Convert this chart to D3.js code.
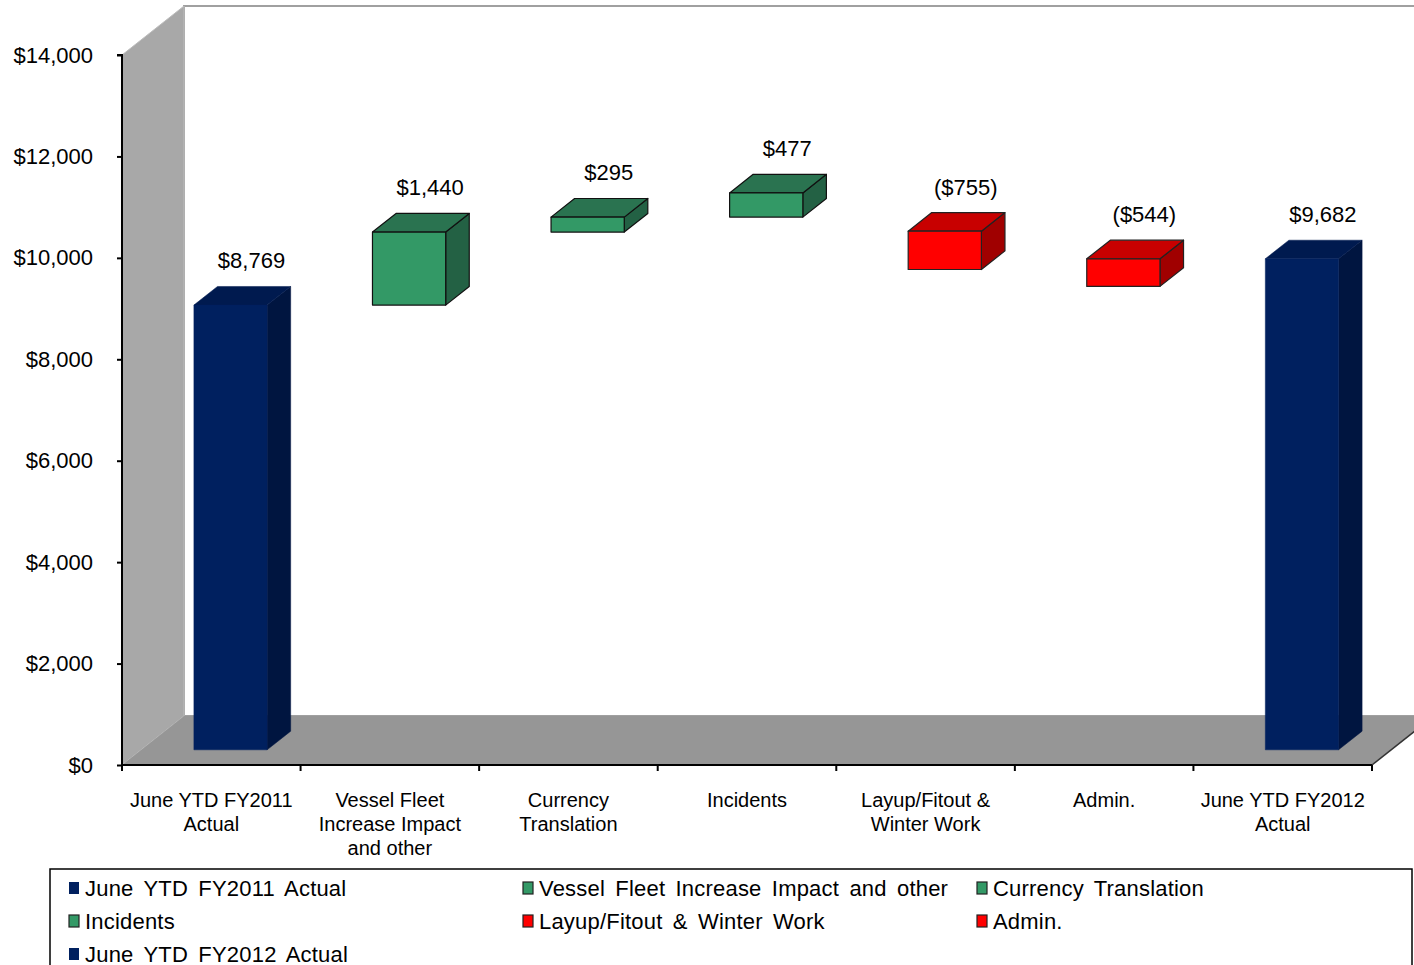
<!DOCTYPE html>
<html><head><meta charset="utf-8">
<script src="https://cdn.jsdelivr.net/npm/d3@7"></script>
<style>
html,body{margin:0;padding:0;background:#fff;overflow:hidden}
svg{display:block;font-family:"Liberation Sans",Arial,sans-serif}
</style></head>
<body><svg id="c" width="1414" height="965"></svg>
<script>
// ---- data ----
const categories = [["June YTD FY2011","Actual"],["Vessel Fleet","Increase Impact","and other"],["Currency","Translation"],["Incidents"],["Layup/Fitout &","Winter Work"],["Admin."],["June YTD FY2012","Actual"]];
const seriesNames = ["June YTD FY2011 Actual","Vessel Fleet Increase Impact and other","Currency Translation","Incidents","Layup/Fitout & Winter Work","Admin.","June YTD FY2012 Actual"];
const values = [8769, 1440, 295, 477, -755, -544, 9682];
const kinds = ["total","delta","delta","delta","delta","delta","total"];
const valueLabels = ["$8,769","$1,440","$295","$477","($755)","($544)","$9,682"];
const yTicks = [0,2000,4000,6000,8000,10000,12000,14000];
const yTickLabels = ["$0","$2,000","$4,000","$6,000","$8,000","$10,000","$12,000","$14,000"];

// ---- layout ----
const svg = d3.select("#c");
const x0 = 122, x1 = 1372, yBase = 765, yTop = 55;
const DX = 62, DY = -49; // full depth offset
const dFront = 0.31, dBar = 0.38;
const y = d3.scaleLinear().domain([0,14000]).range([yBase,yTop]);
const x = d3.scaleBand().domain(d3.range(categories.length)).range([x0,x1]);
const bw = x.bandwidth()*0.41;
const P = (px, v, d) => [px + DX*d, y(v) + DY*d];

const pal = {
  total:{front:"#00205f", top:"#001a4f", side:"#001540", stroke:"none"},
  up:{front:"#339966", top:"#2a7350", side:"#236144", stroke:"#111"},
  down:{front:"#ff0000", top:"#c80000", side:"#a00000", stroke:"#222"}
};

// walls
const g = svg.append("g");
g.append("polygon").attr("points",[P(x0,14000,1),P(x1+200,14000,1),P(x1+200,0,1),P(x0,0,1)].join(" "))
  .attr("fill","#fff").attr("stroke","#a0a0a0").attr("stroke-width",2);
g.append("polygon").attr("points",[P(x0,14000,0),P(x0,14000,1),P(x0,0,1),P(x0,0,0)].join(" "))
  .attr("fill","#a8a8a8").attr("stroke","#bdbdbd").attr("stroke-width",1);
g.append("polygon").attr("points",[P(x0,0,0),P(x0,0,1),P(x1,0,1),P(x1,0,0)].join(" "))
  .attr("fill","#969696").attr("stroke","none");
g.append("line").attr("x1",P(x1,0,0)[0]).attr("y1",P(x1,0,0)[1]).attr("x2",P(x1,0,1)[0]).attr("y2",P(x1,0,1)[1])
  .attr("stroke","#333").attr("stroke-width",1.5);

// axes
const yAxis = d3.axisLeft(y).tickValues(yTicks).tickFormat((d,i)=>yTickLabels[i]).tickSize(5).tickPadding(24);
const ya = svg.append("g").attr("transform",`translate(${x0},0)`).call(yAxis);
ya.select(".domain").attr("stroke","#000").attr("stroke-width",2).attr("d",`M-5,${y(14000)}H0V${yBase}`);
ya.selectAll(".tick line").attr("stroke","#000").attr("stroke-width",2);
ya.selectAll(".tick text").attr("font-size",22).attr("fill","#000").attr("font-family","Liberation Sans, Arial, sans-serif");

const xa = svg.append("g");
xa.append("line").attr("x1",x0).attr("x2",x1).attr("y1",yBase).attr("y2",yBase).attr("stroke","#000").attr("stroke-width",2);
const tickXs = d3.range(categories.length+1).map(i => i<categories.length ? x(i) : x1);
xa.selectAll("line.t").data(tickXs).join("line").attr("class","t")
  .attr("x1",d=>d).attr("x2",d=>d).attr("y1",yBase).attr("y2",yBase+6).attr("stroke","#000").attr("stroke-width",2);
categories.forEach((lines,i)=>{
  const cx = x(i)+x.bandwidth()/2;
  const t = xa.append("text").attr("text-anchor","middle").attr("font-size",20).attr("fill","#000")
    .attr("x", cx).attr("y", 807);
  lines.forEach((s,j)=>t.append("tspan").attr("x",cx).attr("dy",j?24:0).text(s));
});

// waterfall extents (decreases drawn as in the source: [after - |v|, after])
let cum = 0;
const bars = values.map((v,i)=>{
  let lo, hi, kind;
  if (kinds[i]==="total"){ lo=0; hi=v; cum=v; kind="total"; }
  else if (v>=0){ lo=cum; hi=cum+v; cum+=v; kind="up"; }
  else { cum+=v; hi=cum; lo=cum+v; kind="down"; }
  return {i, lo, hi, kind};
});

const bg = svg.append("g");
bars.forEach(b=>{
  const c = pal[b.kind];
  const xl = x(b.i) + (x.bandwidth()-bw)/2, xr = xl + bw;
  const d0 = dFront, d1 = dFront + dBar;
  const front = [P(xl,b.hi,d0),P(xr,b.hi,d0),P(xr,b.lo,d0),P(xl,b.lo,d0)];
  const top = [P(xl,b.hi,d0),P(xl,b.hi,d1),P(xr,b.hi,d1),P(xr,b.hi,d0)];
  const side = [P(xr,b.hi,d0),P(xr,b.hi,d1),P(xr,b.lo,d1),P(xr,b.lo,d0)];
  const solid = c.stroke==="none";
  [[side,c.side],[top,c.top],[front,c.front]].forEach(([pts,fill])=>{
    bg.append("polygon").attr("points",pts.join(" ")).attr("fill",fill)
      .attr("stroke",solid?fill:c.stroke).attr("stroke-width",solid?0.5:1.2).attr("stroke-linejoin","round");
  });
  const fc = P(xl + bw/2, b.hi, d0);
  const bt = P(xl, b.hi, d1);
  bg.append("text").attr("x", fc[0] + 21).attr("y", bt[1]-26+8)
    .attr("text-anchor","middle").attr("font-size",22).attr("fill","#000").text(valueLabels[b.i]);
});

// legend
const lg = svg.append("g");
const lx = 50, ly = 869, lw = 1362, lh = 120;
lg.append("rect").attr("x",lx).attr("y",ly).attr("width",lw).attr("height",lh).attr("fill","#fff").attr("stroke","#000").attr("stroke-width",1.5);
const colW = lw/3;
seriesNames.forEach((s,i)=>{
  const col = i%3, row = Math.floor(i/3);
  const b = bars[i]; const c = pal[b.kind];
  const sx = lx + 19 + col*colW, cy = 888 + row*33;
  lg.append("rect").attr("x",sx).attr("y",cy-6).attr("width",10).attr("height",12)
    .attr("fill",c.front).attr("stroke",b.kind==="total"?"none":"#222").attr("stroke-width",1.2);
  lg.append("text").attr("x",sx+16).attr("y",cy+8).attr("font-size",22).attr("fill","#000")
    .attr("word-spacing",4).attr("letter-spacing",0.2).text(s);
});
</script></body></html>
